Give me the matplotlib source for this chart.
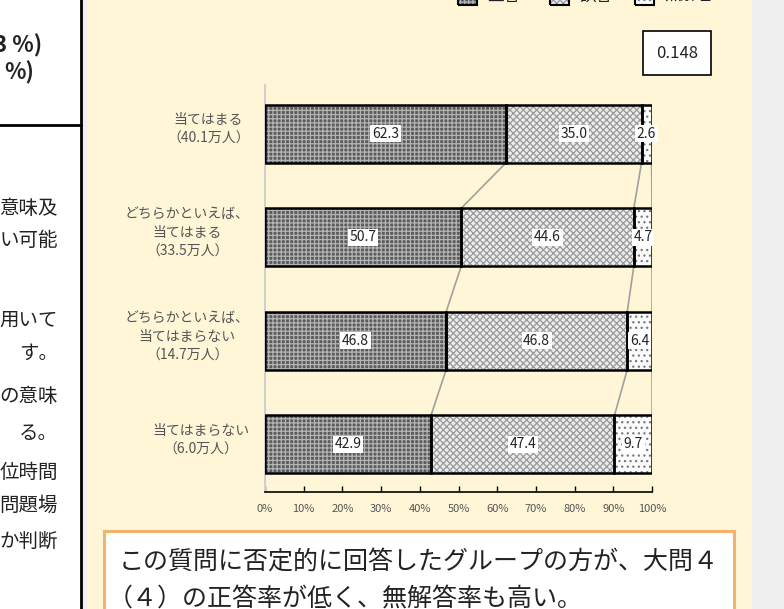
import matplotlib
matplotlib.use("Agg")
import matplotlib.pyplot as plt
from matplotlib.patches import Rectangle
import numpy as np

plt.rcParams['font.family'] = ['Noto Sans CJK JP', 'DejaVu Sans']
plt.rcParams['hatch.linewidth'] = 0.9

# ---- data ----
categories = ["当てはまる\n（40.1万人）",
              "どちらかといえば、\n当てはまる\n（33.5万人）",
              "どちらかといえば、\n当てはまらない\n（14.7万人）",
              "当てはまらない\n（6.0万人）"]
correct = [62.3, 50.7, 46.8, 42.9]
wrong = [35.0, 44.6, 46.8, 47.4]
noanswer = [2.6, 4.7, 6.4, 9.7]
series_names = ["正答", "誤答", "無解答"]
tick_labels = ["0%", "10%", "20%", "30%", "40%", "50%", "60%", "70%", "80%", "90%", "100%"]
coef_text = "0.148"
left_bold = ["3 %)", "%)"]
left_body = ["意味及", "い可能", "用いて", "す。", "の意味", "る。", "位時間", "問題場", "か判断"]
comment = ["この質問に否定的に回答したグループの方が、大問４",
           "（４）の正答率が低く、無解答率も高い。"]

W, H = 784, 609
fig = plt.figure(figsize=(W / 100, H / 100), dpi=100)
CREAM = '#FFF6D8'
fig.patch.set_facecolor(CREAM)

def fx(x):
    return x / W

def fy(y):
    return 1 - y / H

# background panels
fig.patches.append(Rectangle((0, 0), fx(81), 1, transform=fig.transFigure,
                             facecolor='white', edgecolor='none', zorder=0))
fig.patches.append(Rectangle((fx(82), 0), fx(5), 1, transform=fig.transFigure,
                             facecolor='#F0F0F0', edgecolor='none', zorder=0))
fig.patches.append(Rectangle((fx(752), 0), fx(32), 1, transform=fig.transFigure,
                             facecolor='#F0F0F0', edgecolor='none', zorder=0))
fig.add_artist(plt.Line2D([fx(81), fx(81)], [0, 1], transform=fig.transFigure,
                          color='black', lw=2))
fig.add_artist(plt.Line2D([0, fx(81)], [fy(125), fy(125)], transform=fig.transFigure,
                          color='black', lw=2))

# left panel texts (cut off on the left)
for s, y, xr in zip(left_bold, [46, 73], [42, 34]):
    fig.text(fx(xr), fy(y), s, ha='right', va='center', fontsize=16,
             fontweight='bold', color='#222222')
body_y = [208, 240, 320, 353, 397, 434, 472, 505, 541]
for s, y in zip(left_body, body_y):
    fig.text(fx(58), fy(y), s, ha='right', va='center', fontsize=14, color='#222222')

# ---- chart ----
ax = fig.add_axes([fx(265), fy(492), fx(652 - 265), (492 - 85) / H])
ax.set_facecolor('none')

y = np.arange(len(categories))
h = 0.56
correct_a = np.array(correct)
wrong_a = np.array(wrong)
noans_a = np.array(noanswer)
lefts = [np.zeros(4), correct_a, correct_a + wrong_a]
widths = [correct_a, wrong_a, noans_a]
faces = ['#5c5c5c', '#ececec', '#fbfbfb']
hatch_cols = ['#b4b4b4', '#9a9a9a', '#7a7a7a']
hatches = ['++++', 'xxxxx', '...']

for l, w, fc, hc, ht in zip(lefts, widths, faces, hatch_cols, hatches):
    ax.barh(y, w, left=l, height=h, color=fc, edgecolor=hc, hatch=ht,
            linewidth=0, zorder=2)
    ax.barh(y, w, left=l, height=h, fill=False, edgecolor='black',
            linewidth=1.8, zorder=3)
    for yi, li, wi in zip(y, l, w):
        ax.text(li + wi / 2, yi, f"{wi:.1f}", ha='center', va='center',
                fontsize=10, color='#222222', zorder=5,
                bbox=dict(facecolor='white', edgecolor='none', pad=1.2))

# connecting lines
bounds = [correct_a, correct_a + wrong_a, correct_a + wrong_a + noans_a]
for b in bounds:
    for i in range(len(y) - 1):
        ax.plot([b[i], b[i + 1]], [y[i] + h / 2, y[i + 1] - h / 2],
                color='#a0a0a0', lw=1.2, zorder=1)

ax.set_xlim(0, 100)
ax.set_ylim(3.46, -0.47)
ax.set_xticks(np.arange(0, 101, 10))
ax.set_xticklabels(tick_labels, fontsize=8, color='#555555')
ax.tick_params(axis='x', direction='in', length=4, width=1, pad=9, colors='black',
               labelcolor='#555555')
ax.set_yticks(y)
ax.set_yticklabels([])
ax.tick_params(axis='y', length=0)
for s in ['top', 'right']:
    ax.spines[s].set_visible(False)
ax.spines['bottom'].set_color('black')
ax.spines['bottom'].set_linewidth(1.2)
ax.spines['left'].set_color('#cfcfcf')
ax.spines['left'].set_linewidth(1.5)

# category labels
for yi, lab in zip(y, categories):
    ax.text(-4.0, yi - 0.04, lab, ha='right', va='center', multialignment='center',
            fontsize=10, color='#555555', linespacing=1.45,
            transform=ax.transData)

# coefficient box
fig.text(fx(677), fy(53), coef_text, ha='center', va='center', fontsize=12,
         color='#222222',
         bbox=dict(facecolor='white', edgecolor='black', linewidth=1.2,
                   boxstyle='square,pad=0.8'))

# legend (mostly cut off at top)
leg_sq = [458, 550, 635]
for x0, name, fc, hc, ht in zip(leg_sq, series_names, faces, hatch_cols, hatches):
    fig.patches.append(Rectangle((fx(x0), fy(5)), fx(19), 15 / H,
                                 transform=fig.transFigure, facecolor=fc,
                                 edgecolor=hc, hatch=ht, linewidth=0))
    fig.patches.append(Rectangle((fx(x0), fy(5)), fx(19), 15 / H,
                                 transform=fig.transFigure, fill=False,
                                 edgecolor='black', linewidth=1.5))
    fig.text(fx(x0 + 29), fy(-4), name, ha='left', va='center', fontsize=12,
             color='#222222')

# comment box
fig.patches.append(Rectangle((fx(104), fy(640)), fx(734 - 104), (640 - 531) / H,
                             transform=fig.transFigure, facecolor='white',
                             edgecolor='#F2B36E', linewidth=2.2, zorder=1))
fig.text(fx(119), fy(563), comment[0], ha='left', va='center', fontsize=18,
         color='#222222')
fig.text(fx(108), fy(599), comment[1], ha='left', va='center', fontsize=18,
         color='#222222')

fig.savefig("out.png", dpi=100, facecolor=fig.get_facecolor())
